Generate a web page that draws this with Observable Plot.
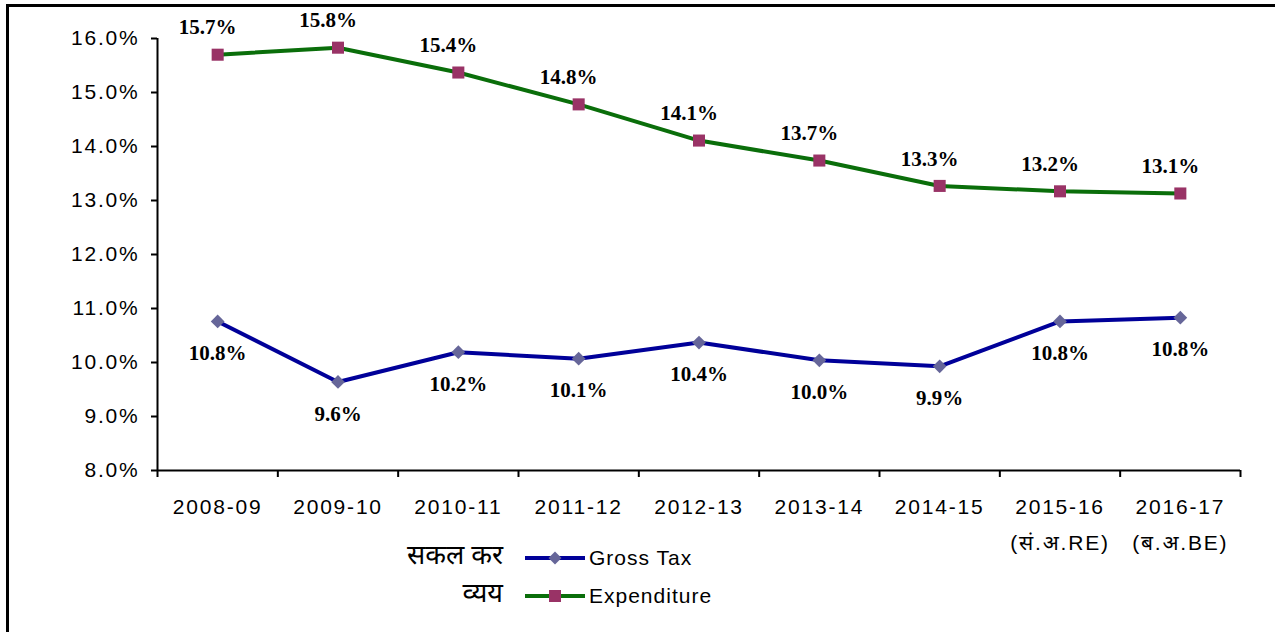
<!DOCTYPE html>
<html>
<head>
<meta charset="utf-8">
<script src="https://cdn.jsdelivr.net/npm/d3@7"></script>
<script src="https://cdn.jsdelivr.net/npm/@observablehq/plot@0.6"></script>
<style>
  html, body { margin: 0; padding: 0; background: #fff; }
  #wrap { position: relative; width: 1275px; height: 632px; overflow: hidden; font-family: "Liberation Sans", Arial, sans-serif; }
  #chart { position: absolute; left: 0; top: 0; }
  #border { position: absolute; left: 6px; top: 4px; width: 1400px; height: 800px; border-left: 3px solid #000; border-top: 3px solid #000; pointer-events: none; }
  .legend { position: absolute; left: 0; top: 539px; width: 1275px; }
  .row { display: flex; align-items: center; height: 38px; }
  .lab { width: 503px; text-align: right; font-size: 27px; line-height: 30px; font-weight: normal; font-family: "Noto Sans Devanagari", "Lohit Devanagari", "FreeSans", "Liberation Sans", sans-serif; }
  .sw { margin-left: 22px; width: 60px; height: 20px; }
  .txt { margin-left: 4px; font-size: 21px; letter-spacing: 1px; }
  g[aria-label="y-axis tick label"], g[aria-label="x-axis tick label"] { letter-spacing: 1.8px; }
</style>
</head>
<body>
<div id="wrap">
  <div id="chart"></div>
  <div class="legend">
    <div class="row" id="row1"></div>
    <div class="row" id="row2"></div>
  </div>
  <div id="border"></div>
</div>
<script>
const categories = ["2008-09", "2009-10", "2010-11", "2011-12", "2012-13", "2013-14", "2014-15", "2015-16\n(सं.अ.RE)", "2016-17\n(ब.अ.BE)"];
const grossTax = [10.76, 9.64, 10.19, 10.07, 10.37, 10.04, 9.93, 10.76, 10.83];
const expenditure = [15.70, 15.83, 15.37, 14.78, 14.11, 13.74, 13.27, 13.17, 13.13];
const yTicks = [8, 9, 10, 11, 12, 13, 14, 15, 16];
const seriesNames = ["Gross Tax", "Expenditure"];
const seriesHindi = ["सकल कर", "व्यय"];

const taxColor = "#000099", taxMarker = "#666699";
const expColor = "#0a6e0a", expMarker = "#993366";

const data = categories.map((c, i) => ({i, tax: grossTax[i], exp: expenditure[i]}));
const fmt = v => v.toFixed(1) + "%";
const labelFont = "'Liberation Serif', 'Times New Roman', serif";

const chart = Plot.plot({
  width: 1275,
  height: 562,
  marginLeft: 157,
  marginRight: 35,
  marginTop: 38,
  marginBottom: 92,
  x: {type: "linear", domain: [-0.5, categories.length - 0.5]},
  y: {domain: [8, 16]},
  style: {fontFamily: "'Liberation Sans', Arial, sans-serif", fontSize: "21px", color: "#000", background: "transparent"},
  marks: [
    Plot.axisY({ticks: yTicks, tickSize: 6, tickPadding: 12, tickFormat: d => d.toFixed(1) + "%", strokeWidth: 2, label: null, fontSize: 21}),
    Plot.axisX({ticks: d3.range(-0.5, categories.length, 1), tickSize: 7, tickFormat: () => "", strokeWidth: 2, label: null}),
    Plot.axisX({ticks: d3.range(0, categories.length), tickSize: 0, tickPadding: 18, tickFormat: i => categories[i], lineHeight: 1.7, label: null, fontSize: 21, fontFamily: "'Liberation Sans', 'Noto Sans Devanagari', 'Lohit Devanagari', FreeSans, sans-serif"}),
    Plot.ruleX([-0.5], {strokeWidth: 2}),
    Plot.ruleY([8], {strokeWidth: 2}),
    Plot.line(data, {x: "i", y: "exp", stroke: expColor, strokeWidth: 4}),
    Plot.line(data, {x: "i", y: "tax", stroke: taxColor, strokeWidth: 4}),
    Plot.dot(data, {x: "i", y: "exp", symbol: "square", r: 6.8, fill: expMarker, stroke: null}),
    Plot.dot(data, {x: "i", y: "tax", symbol: "diamond2", r: 6.2, fill: taxMarker, stroke: null}),
    Plot.text(data, {x: "i", y: "exp", text: d => fmt(d.exp), dx: -10, dy: -27, fontFamily: labelFont, fontWeight: "bold", fontSize: 21, fill: "#000"}),
    Plot.text(data, {x: "i", y: "tax", text: d => fmt(d.tax), dy: 32, fontFamily: labelFont, fontWeight: "bold", fontSize: 21, fill: "#000"})
  ]
});
document.getElementById("chart").appendChild(chart);

function legendRow(el, hindi, name, color, marker, shape) {
  const m = shape === "square"
    ? `<rect x="24" y="4" width="12" height="12" fill="${marker}"/>`
    : `<path d="M30,3.5 L36.5,10 L30,16.5 L23.5,10 Z" fill="${marker}"/>`;
  el.innerHTML = `<div class="lab">${hindi}</div>
    <svg class="sw" viewBox="0 0 60 20"><line x1="0" x2="60" y1="10" y2="10" stroke="${color}" stroke-width="4" stroke-linecap="round"/>${m}</svg>
    <div class="txt">${name}</div>`;
}
legendRow(document.getElementById("row1"), seriesHindi[0], seriesNames[0], taxColor, taxMarker, "diamond");
legendRow(document.getElementById("row2"), seriesHindi[1], seriesNames[1], expColor, expMarker, "square");
</script>
</body>
</html>
